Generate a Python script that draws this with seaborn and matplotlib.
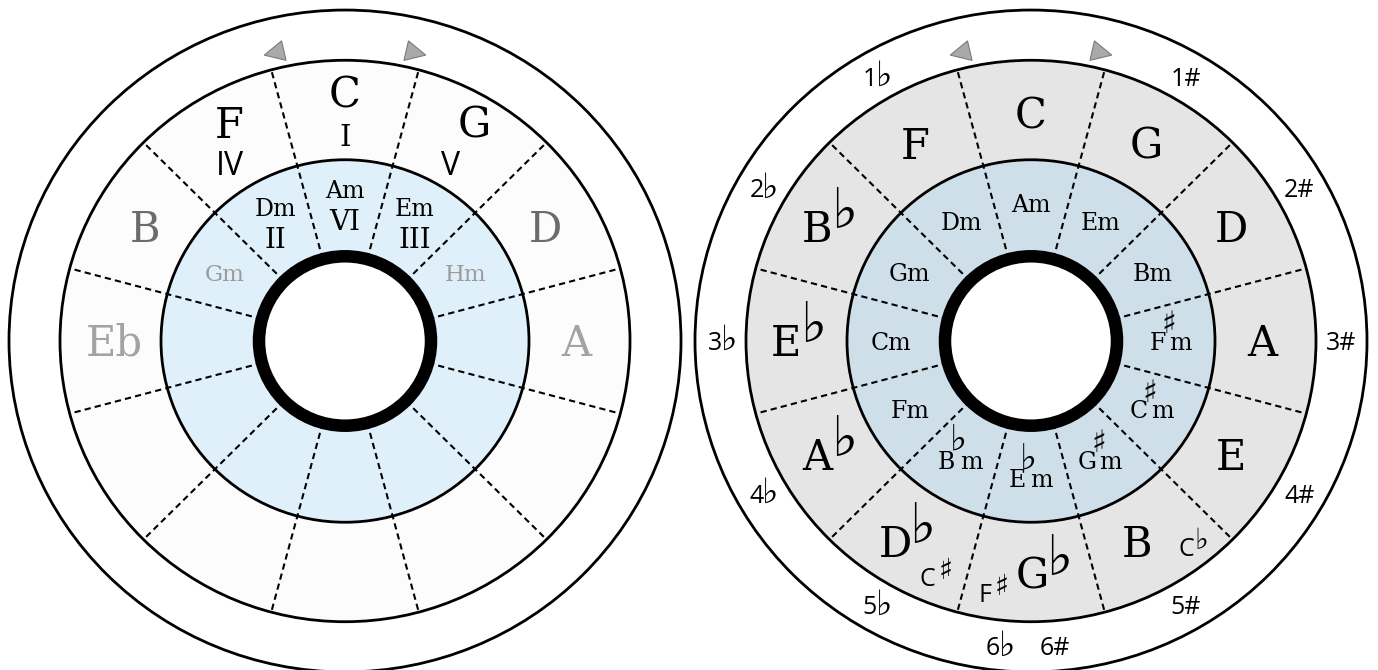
import numpy as np
import pandas as pd
import matplotlib
matplotlib.use("Agg")
import matplotlib.pyplot as plt
from matplotlib.patches import Ellipse, Polygon
import seaborn as sns

# ---------------- data ----------------
# sector 0 = top (C), going clockwise
left_major = ["C", "G", "D", "A", "", "", "", "", "", "Eb", "B", "F"]
left_major_shade = ["k", "k", "dark", "light", "", "", "", "", "", "light", "dark", "k"]
left_major_roman = ["I", "V", "", "", "", "", "", "", "", "", "", "IV"]
left_minor = ["Am", "Em", "Hm", "", "", "", "", "", "", "", "Gm", "Dm"]
left_minor_shade = ["k", "k", "light", "", "", "", "", "", "", "", "light", "k"]
left_minor_roman = ["VI", "III", "", "", "", "", "", "", "", "", "", "II"]

right_major = ["C", "G", "D", "A", "E", "B", "G", "D", "A", "E", "B", "F"]
right_major_acc = ["", "", "", "", "", "", "\u266d", "\u266d", "\u266d", "\u266d", "\u266d", ""]
right_enh_letter = ["", "", "", "", "", "C", "F", "C", "", "", "", ""]
right_enh_acc = ["", "", "", "", "", "\u266d", "\u266f", "\u266f", "", "", "", ""]
right_minor = ["A", "E", "B", "F", "C", "G", "E", "B", "F", "C", "G", "D"]
right_minor_acc = ["", "", "", "\u266f", "\u266f", "\u266f", "\u266d", "\u266d", "", "", "", ""]
sharp_sigs = ["1#", "2#", "3#", "4#", "5#", "6#"]            # sectors 1..6
flat_sig_num = ["1", "2", "3", "4", "5", "6"]                 # sectors 11..6
flat_sign = "\u266d"

# ---------------- style ----------------
sns.set_theme(style="white")
plt.rcParams["font.family"] = ["DejaVu Serif"]
SERIF = ["DejaVu Serif"]
SANS = ["Open Sans", "DejaVu Sans"]
SYM = ["DejaVu Sans"]
PX = 100 / 72.0

CY = 341
SY = 0.985
LCX, RCX = 345, 1031
R_OUT, R_MAJ, R_MIN, R_IN = 336, 285, 184, 86
SHADES = {"k": "black", "dark": "#6b6b6b", "light": "#a3a3a3"}

fig = plt.figure(figsize=(13.78, 6.70), dpi=100)
ax = fig.add_axes([0, 0, 1, 1])


def pos(cx, r, ang):
    a = np.deg2rad(ang)
    return cx + r * np.cos(a), CY - r * SY * np.sin(a)


def put(x, yc, s, size, family, color="black", cap=0.36, ha="center"):
    """text whose capital letters are vertically centred on yc"""
    ax.text(x, yc + cap * size * PX, s, ha=ha, va="baseline",
            fontsize=size, family=family, color=color, zorder=6)


def flat(x, base, size):
    """flat sign sitting on baseline `base`"""
    ax.text(x, base, flat_sign, ha="center", va="baseline", fontsize=size,
            family=SYM, color="black", zorder=6)


def sharp(x, c, size, s="\u266f"):
    """sharp sign roughly centred on c"""
    ax.text(x, c + 0.17 * size * PX, s, ha="center", va="center", fontsize=size,
            family=SYM, color="black", zorder=6)


def rings(cx, maj_col, min_col):
    ax.add_patch(Ellipse((cx, CY), 2 * R_OUT, 2 * R_OUT * SY, facecolor="white",
                         edgecolor="black", lw=2.0, zorder=1))
    ax.add_patch(Ellipse((cx, CY), 2 * R_MAJ, 2 * R_MAJ * SY, facecolor=maj_col,
                         edgecolor="none", zorder=1))
    ax.add_patch(Ellipse((cx, CY), 2 * R_MIN, 2 * R_MIN * SY, facecolor=min_col,
                         edgecolor="none", zorder=1))
    for r in (R_MAJ, R_MIN):
        ax.add_patch(Ellipse((cx, CY), 2 * r, 2 * r * SY, facecolor="none",
                             edgecolor="black", lw=2.0, zorder=3))
    ax.add_patch(Ellipse((cx, CY), 2 * R_IN, 2 * R_IN * SY, facecolor="white",
                         edgecolor="black", lw=9.0, zorder=4))
    # triangles
    for ang, sgn in ((103, 1), (77, -1)):
        c = np.array(pos(cx, 301, ang))
        t = np.deg2rad(ang)
        d = np.array([-np.sin(t), -np.cos(t)]) * sgn  # screen-coords tangent
        n = np.array([-d[1], d[0]])
        h, w = 20, 20
        pts = [c + d * h * 2 / 3, c - d * h / 3 + n * w / 2, c - d * h / 3 - n * w / 2]
        ax.add_patch(Polygon(pts, closed=True, facecolor="#a9a9a9",
                             edgecolor="#7a7a7a", lw=0.8, zorder=5))


rings(LCX, "#fcfcfc", "#e0f0fb")
rings(RCX, "#e5e5e5", "#cfdfea")

# dashed sector dividers via seaborn
rows = []
seg = 0
for cx in (LCX, RCX):
    for k in range(12):
        ang = 75 - 30 * k
        for r in (R_IN, R_MAJ):
            x, y = pos(cx, r, ang)
            rows.append({"x": x, "y": y, "seg": seg})
        seg += 1
df = pd.DataFrame(rows)
sns.lineplot(data=df, x="x", y="y", units="seg", estimator=None, sort=False,
             color="black", lw=1.5, linestyle=(0, (3, 2)), ax=ax, zorder=2)

# ---------------- left circle labels ----------------
MAJ_FS, MIN_FS = 30, 17
left_major_nudge = {1: 14}
left_roman_nudge = {1: -10}
for i in range(12):
    ang = 90 - 30 * i
    x, y = pos(LCX, 231, ang)
    if left_major[i]:
        col = SHADES[left_major_shade[i]]
        if left_major_roman[i]:
            put(x + left_major_nudge.get(i, 0), y - 21, left_major[i], MAJ_FS, SERIF, col)
            rn = left_major_roman[i]
            if rn == "I":
                put(x + left_roman_nudge.get(i, 0), y + 22, rn, 21, SERIF)
            else:
                put(x + left_roman_nudge.get(i, 0), y + 20, rn, 23, SANS)
        else:
            put(x, y, left_major[i], MAJ_FS, SERIF, col)
    x, y = pos(LCX, 139, ang)
    if left_minor[i]:
        col = SHADES[left_minor_shade[i]]
        if left_minor_roman[i]:
            put(x, y - 15, left_minor[i], MIN_FS, SERIF, col)
            put(x, y + 16, left_minor_roman[i], 20, SERIF)
        else:
            put(x, y, left_minor[i], 16.5, SERIF, "#9a9a9a")

# ---------------- right circle labels ----------------
right_nudge = {5: (-9, 4), 6: (15, 5), 7: (-6, 4)}
# (letter offset, accidental offset) relative to the sector's label position
enh_off = {5: ((40, 9), (55, 0)), 6: ((-46, 24), (-29, 17)), 7: ((12, 39), (30, 31))}
for i in range(12):
    ang = 90 - 30 * i
    x0, y0 = pos(RCX, 231, ang)
    nx, ny = right_nudge.get(i, (0, 0))
    x, y = x0 + nx, y0 + ny
    if right_major_acc[i]:
        put(x - 14, y, right_major[i], MAJ_FS, SERIF)
        base = y + 0.36 * MAJ_FS * PX
        flat(x + 13, base - 14, 40)
    else:
        put(x, y, right_major[i], MAJ_FS, SERIF)
    if right_enh_letter[i]:
        (lx, ly), (ax_, ay_) = enh_off[i]
        put(x0 + lx, y0 + ly, right_enh_letter[i], 18, SANS)
        if right_enh_acc[i] == flat_sign:
            flat(x0 + ax_, y0 + ly + 0.36 * 18 * PX - 7, 21)
        else:
            sharp(x0 + ax_, y0 + ay_ - 3, 21)
    # minor
    x, y = pos(RCX, 140, ang)
    if right_minor_acc[i]:
        j = x - 3
        gap = 3 if right_minor_acc[i] != flat_sign else 5
        put(j - gap / 2, y, right_minor[i], MIN_FS, SERIF, ha="right")
        put(j + gap / 2, y, "m", MIN_FS, SERIF, ha="left")
        base = y + 0.36 * MIN_FS * PX
        if right_minor_acc[i] == flat_sign:
            flat(j, base - 18, 26)
        else:
            sharp(j + 1, y - 22, 22)
    else:
        put(x, y, right_minor[i] + "m", MIN_FS, SERIF)

# key signatures
SIG_FS = 18
for k, s in enumerate(sharp_sigs):
    i = k + 1
    x, y = pos(RCX, 310, 90 - 30 * i)
    if i == 6:
        x += 24
    put(x, y, s, SIG_FS, SANS)
for k, s in enumerate(flat_sig_num):
    i = 11 - k
    x, y = pos(RCX, 310, 90 - 30 * i)
    if i == 6:
        x -= 32
    put(x - 6, y, s, SIG_FS, SANS)
    flat(x + 8, y + 0.36 * SIG_FS * PX, 25)

ax.set_xlim(0, 1378)
ax.set_ylim(670, 0)
ax.axis("off")
fig.savefig("out.png", dpi=100, facecolor="white")
